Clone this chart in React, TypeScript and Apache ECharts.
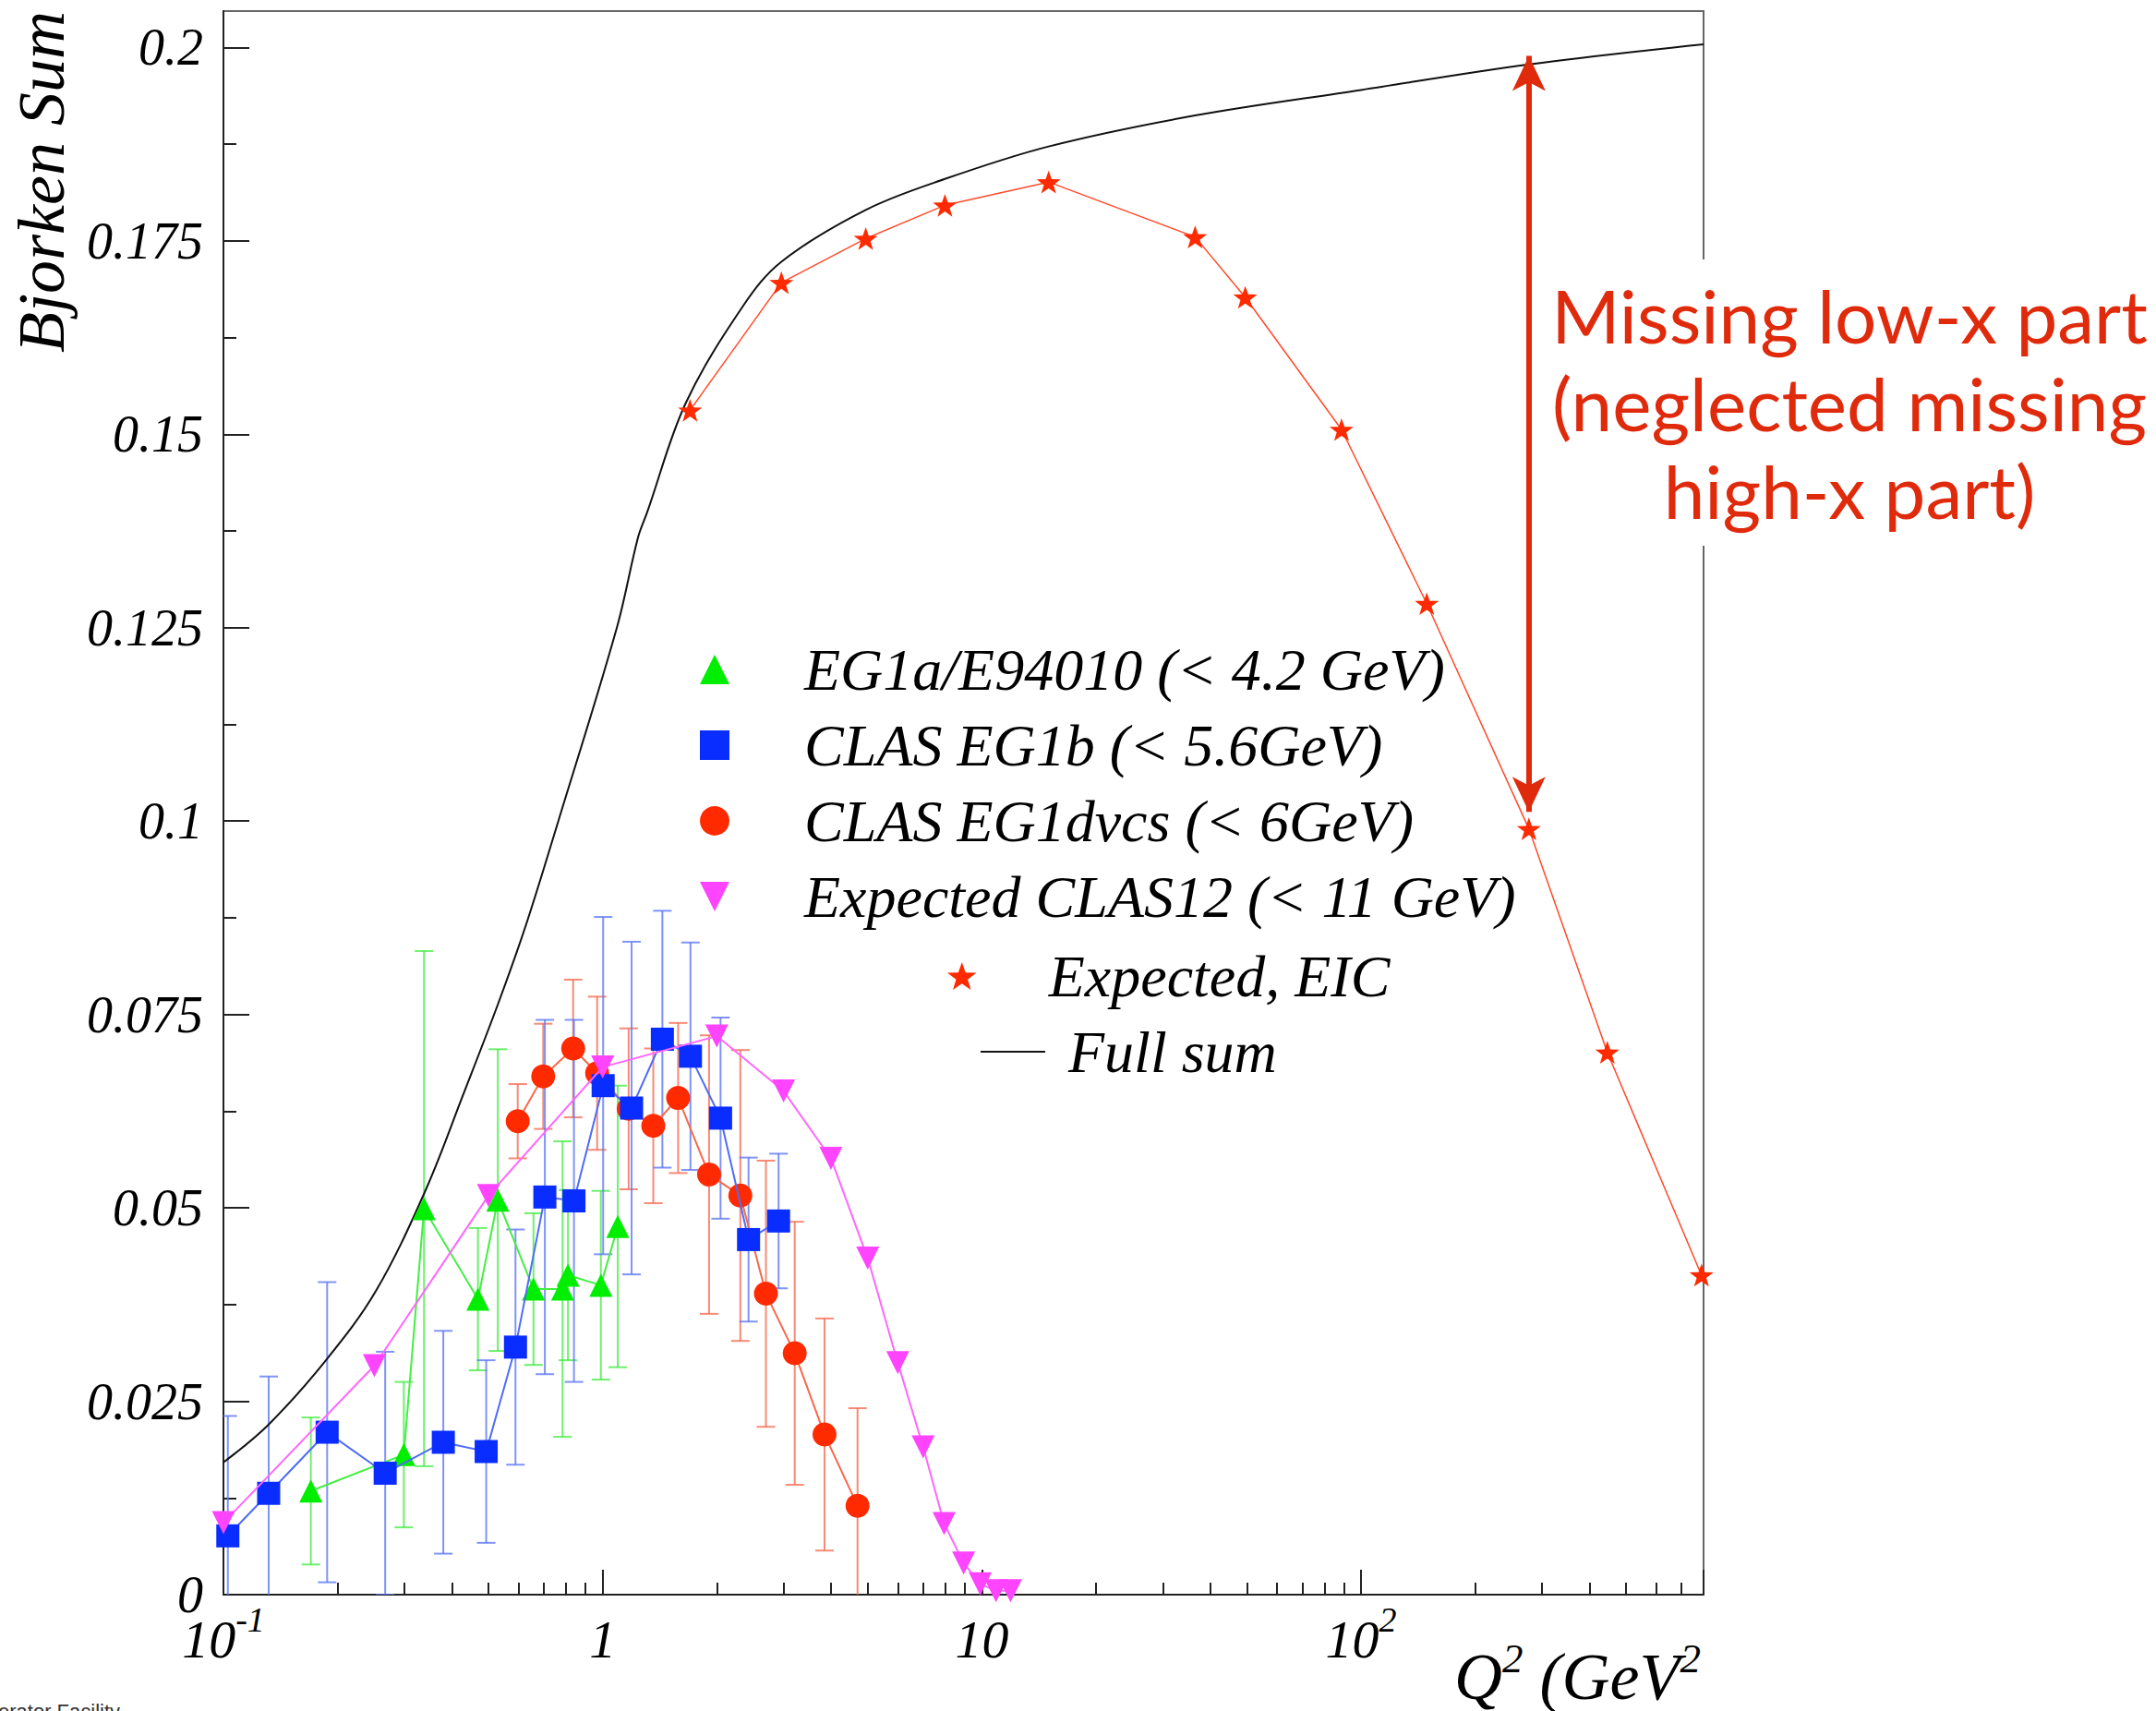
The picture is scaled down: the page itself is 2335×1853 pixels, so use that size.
import React, { useEffect, useRef } from 'react';
import * as echarts from 'echarts';

const W = 2335;
const H = 1853;

// ---------- axes ----------
const xMin = 0.1;
const xMax = 800;
const yMin = 0;
const yMax = 0.2047;
const yTicks = [0, 0.025, 0.05, 0.075, 0.1, 0.125, 0.15, 0.175, 0.2];
const yMinorTicks = [0.0125, 0.0375, 0.0625, 0.0875, 0.1125, 0.1375, 0.1625, 0.1875];
const xDecades = [0.1, 1, 10, 100];
const xDecadeLabels = ['{b|10}{s|-1}', '{b|1}', '{b|10}', '{b|10}{s|2}'];
const xMinorTicks = [
  0.2, 0.3, 0.4, 0.5, 0.6, 0.7, 0.8, 0.9,
  2, 3, 4, 5, 6, 7, 8, 9,
  20, 30, 40, 50, 60, 70, 80, 90,
  200, 300, 400, 500, 600, 700, 800,
];

// ---------- data ----------
const greenName = 'EG1a/E94010 (< 4.2 GeV)';
const greenQ = [0.170, 0.299, 0.338, 0.469, 0.529, 0.657, 0.784, 0.810, 0.989, 1.096];
const greenV = [0.0134, 0.0181, 0.0499, 0.0382, 0.0510, 0.0395, 0.0395, 0.0413, 0.0400, 0.0476];
const greenErr = [0.0095, 0.0094, 0.0333, 0.0092, 0.0195, 0.0098, 0.0191, 0.0110, 0.0122, 0.0182];

const blueName = 'CLAS EG1b (< 5.6GeV)';
const blueQ = [0.1027, 0.1316, 0.1877, 0.267, 0.380, 0.493, 0.589, 0.704, 0.840, 1.003, 1.192, 1.437, 1.704, 2.046, 2.425, 2.91];
const blueV = [0.0076, 0.0131, 0.0210, 0.0157, 0.0197, 0.0185, 0.0320, 0.0514, 0.0509, 0.0658, 0.0629, 0.0718, 0.0696, 0.0616, 0.0459, 0.0483];
const blueErr = [0.0155, 0.0151, 0.0194, 0.0157, 0.0144, 0.0118, 0.0152, 0.0229, 0.0234, 0.0218, 0.0215, 0.0166, 0.0147, 0.0130, 0.0106, 0.0087];

const redName = 'CLAS EG1dvcs (< 6GeV)';
const redQ = [0.597, 0.697, 0.836, 0.967, 1.171, 1.36, 1.581, 1.908, 2.307, 2.695, 3.21, 3.846, 4.70];
const redV = [0.0612, 0.0670, 0.0706, 0.0674, 0.0628, 0.0606, 0.0642, 0.0543, 0.0516, 0.0389, 0.0312, 0.0207, 0.0115];
const redErr = [0.0048, 0.0068, 0.0089, 0.0099, 0.0104, 0.0100, 0.0097, 0.0180, 0.0188, 0.0172, 0.0170, 0.0150, 0.0126];

const magentaName = 'Expected CLAS12 (< 11 GeV)';
const magentaQ = [0.1, 0.25, 0.5, 1.0, 2.0, 3.0, 4.0, 5.0, 6.0, 7.0, 7.95, 8.95, 9.9, 10.9, 11.9];
const magentaV = [0.0093, 0.0296, 0.0516, 0.0682, 0.0722, 0.0651, 0.0564, 0.0435, 0.0300, 0.0191, 0.0092, 0.0041, 0.0014, 0.0005, 0.0005];

const eicName = 'Expected, EIC';
const eicQ = [1.70, 2.96, 4.94, 7.99, 15.0, 36.5, 49.5, 88.8, 149, 277, 446, 790];
const eicV = [0.1531, 0.1696, 0.1753, 0.1796, 0.1826, 0.1755, 0.1677, 0.1506, 0.1281, 0.0990, 0.0701, 0.0413];

const fullName = 'Full sum';
const fullQ = [0.1, 0.1316, 0.187, 0.252, 0.34, 0.43, 0.532, 0.63, 0.764, 1.09, 1.24, 1.31, 1.655, 2.34, 2.96, 4.94, 7.99, 15, 36.5, 100, 277, 800];
const fullV = [0.0171, 0.0220, 0.0304, 0.0392, 0.0521, 0.0648, 0.0766, 0.0868, 0.1000, 0.1250, 0.1367, 0.1399, 0.1540, 0.1665, 0.1723, 0.1790, 0.1830, 0.1872, 0.1912, 0.1945, 0.1978, 0.2004];

// arrow annotation (Q2, low tip, high tip)
const arrowQ = 277;
const arrowLow = 0.1012;
const arrowHigh = 0.1989;

// ---------- symbols ----------
const triUp = 'path://M16,0 L32,32 L0,32 Z';
const triDown = 'path://M0,0 L32,0 L16,32 Z';
const square = 'path://M0,0 L32,0 L32,32 L0,32 Z';
const lineIcon = 'path://M0,0 L70,0 L70,2 L0,2 Z';
const starPath =
  'path://M16,0 L19.76,10.82 L31.22,11.06 L22.09,17.98 L25.4,28.94 L16,22.4 L6.6,28.94 L9.91,17.98 L0.78,11.06 L12.24,10.82 Z';

const serif = 'Liberation Serif';

function pairs(q: number[], v: number[]) {
  return q.map((x, i) => [x, v[i]]);
}
function errRows(q: number[], v: number[], e: number[]) {
  return q.map((x, i) => [x, v[i] - e[i], v[i] + e[i]]);
}

function errorSeries(rows: number[][], color: string) {
  return {
    type: 'custom',
    silent: true,
    clip: true,
    z: 2,
    data: rows,
    encode: { x: 0, y: [1, 2] },
    renderItem: (params: any, api: any) => {
      const x = api.value(0);
      const lo = api.value(1);
      const hi = api.value(2);
      const loC = Math.max(lo, yMin);
      const top = api.coord([x, hi]);
      const bot = api.coord([x, loC]);
      const cw = 10;
      const style = { stroke: color, lineWidth: 2 };
      const children: any[] = [
        { type: 'line', shape: { x1: top[0], y1: top[1], x2: bot[0], y2: bot[1] }, style },
        { type: 'line', shape: { x1: top[0] - cw, y1: top[1], x2: top[0] + cw, y2: top[1] }, style },
      ];
      if (lo >= yMin) {
        children.push({ type: 'line', shape: { x1: bot[0] - cw, y1: bot[1], x2: bot[0] + cw, y2: bot[1] }, style });
      }
      return { type: 'group', children };
    },
  };
}

const legendText = {
  fontSize: 64,
  fontStyle: 'italic',
  fontFamily: serif,
  color: '#000',
  lineHeight: 66,
};

export default function App() {
  const ref = useRef<HTMLDivElement>(null);

  useEffect(() => {
    if (!ref.current) return;
    const chart = echarts.init(ref.current, null, { renderer: 'svg', width: W, height: H });

    const option: any = {
      animation: false,
      backgroundColor: '#fff',
      grid: {
        left: 242,
        right: 490,
        top: 12,
        bottom: 126,
        show: true,
        borderColor: '#666',
        borderWidth: 2,
        backgroundColor: 'transparent',
        outerBoundsMode: 'none',
        containLabel: false,
      },
      xAxis: [
        {
          type: 'log',
          logBase: 10,
          min: xMin,
          max: xMax,
          position: 'bottom',
          axisLine: { show: true, onZero: false, lineStyle: { color: '#222', width: 2 } },
          axisTick: { show: true, inside: true, length: 27, lineStyle: { color: '#222', width: 2 } },
          minorTick: { show: false },
          splitLine: { show: false },
          axisLabel: {
            show: true,
            margin: 8,
            formatter: (val: number) => {
              const i = xDecades.findIndex((d) => Math.abs(Math.log10(val) - Math.log10(d)) < 1e-6);
              return i >= 0 ? xDecadeLabels[i] : '';
            },
            rich: {
              b: {
                fontSize: 58,
                fontStyle: 'italic',
                fontFamily: serif,
                color: '#000',
                lineHeight: 60,
                padding: [20, 0, 0, 0],
              },
              s: {
                fontSize: 38,
                fontStyle: 'italic',
                fontFamily: serif,
                color: '#000',
                lineHeight: 38,
                verticalAlign: 'top',
              },
            },
          },
        },
        {
          type: 'value',
          min: Math.log10(xMin),
          max: Math.log10(xMax),
          position: 'bottom',
          axisLine: { show: false, onZero: false },
          axisTick: {
            show: true,
            inside: true,
            length: 13,
            customValues: xMinorTicks.map((t) => Math.log10(t)),
            lineStyle: { color: '#222', width: 2 },
          },
          axisLabel: { show: false },
          splitLine: { show: false },
        },
      ],
      yAxis: [
        {
          type: 'value',
          min: yMin,
          max: yMax,
          position: 'left',
          axisLine: { show: true, onZero: false, lineStyle: { color: '#222', width: 2 } },
          axisTick: {
            show: true,
            inside: true,
            length: 28,
            customValues: yTicks,
            lineStyle: { color: '#222', width: 2 },
          },
          splitLine: { show: false },
          axisLabel: {
            show: true,
            customValues: yTicks,
            margin: 22,
            fontSize: 56,
            fontStyle: 'italic',
            fontFamily: serif,
            color: '#000',
            formatter: (v: number) => {
              const i = yTicks.findIndex((t) => Math.abs(t - v) < 1e-7);
              return i >= 0 ? String(parseFloat(yTicks[i].toFixed(4))) : '';
            },
          },
        },
        {
          type: 'value',
          min: yMin,
          max: yMax,
          position: 'left',
          axisLine: { show: false, onZero: false },
          axisTick: {
            show: true,
            inside: true,
            length: 14,
            customValues: yMinorTicks,
            lineStyle: { color: '#222', width: 2 },
          },
          axisLabel: { show: false },
          splitLine: { show: false },
        },
      ],
      legend: [
        {
          orient: 'vertical',
          left: 753,
          top: 687,
          itemWidth: 184,
          itemHeight: 32,
          itemGap: 16,
          selectedMode: false,
          symbolKeepAspect: true,
          textStyle: legendText,
          data: [
            { name: greenName, icon: triUp },
            { name: blueName, icon: square },
            { name: redName, icon: 'circle' },
            { name: magentaName, icon: triDown },
          ],
        },
        {
          orient: 'vertical',
          left: 1021,
          top: 1019,
          itemWidth: 178,
          itemHeight: 30,
          selectedMode: false,
          symbolKeepAspect: true,
          textStyle: legendText,
          data: [{ name: eicName, icon: starPath }],
        },
        {
          orient: 'vertical',
          left: 1057,
          top: 1101,
          itemWidth: 70,
          itemHeight: 32,
          selectedMode: false,
          symbolKeepAspect: true,
          textStyle: { ...legendText, padding: [0, 0, 0, 20] },
          data: [{ name: fullName, icon: lineIcon }],
        },
      ],
      series: [
        errorSeries(errRows(greenQ, greenV, greenErr), 'rgba(60,235,60,0.75)'),
        errorSeries(errRows(redQ, redV, redErr), 'rgba(245,110,85,0.8)'),
        errorSeries(errRows(blueQ, blueV, blueErr), 'rgba(95,120,245,0.8)'),
        {
          name: fullName,
          type: 'line',
          data: pairs(fullQ, fullV),
          symbol: 'none',
          showSymbol: false,
          smooth: 0.35,
          lineStyle: { color: '#111', width: 2 },
          itemStyle: { color: '#111' },
          z: 3,
        },
        {
          name: greenName,
          type: 'line',
          data: pairs(greenQ, greenV),
          symbol: triUp,
          symbolSize: 25,
          symbolKeepAspect: true,
          itemStyle: { color: '#00ee00' },
          lineStyle: { color: '#44ee44', width: 2 },
          z: 4,
        },
        {
          name: redName,
          type: 'line',
          data: pairs(redQ, redV),
          symbol: 'circle',
          symbolSize: 26,
          itemStyle: { color: '#ff2a00' },
          lineStyle: { color: '#f8684c', width: 2 },
          z: 5,
        },
        {
          name: blueName,
          type: 'line',
          data: pairs(blueQ, blueV),
          symbol: square,
          symbolSize: 25,
          symbolKeepAspect: true,
          itemStyle: { color: '#0a2dff' },
          lineStyle: { color: '#4f6cf5', width: 2 },
          z: 6,
        },
        {
          name: magentaName,
          type: 'line',
          data: pairs(magentaQ, magentaV),
          symbol: triDown,
          symbolSize: 25,
          symbolKeepAspect: true,
          itemStyle: { color: '#ff44ff' },
          lineStyle: { color: '#ff66ff', width: 2 },
          z: 7,
        },
        {
          name: eicName,
          type: 'line',
          data: pairs(eicQ, eicV),
          symbol: starPath,
          symbolSize: 26,
          symbolKeepAspect: true,
          itemStyle: { color: '#ff2a00' },
          lineStyle: { color: '#ff4a2a', width: 1.5 },
          z: 8,
          markLine: {
            silent: true,
            animation: false,
            symbol: ['arrow', 'arrow'],
            symbolSize: [27, 38],
            label: { show: false },
            lineStyle: { color: '#e02a0c', width: 6, type: 'solid' },
            emphasis: { disabled: true },
            data: [[{ coord: [arrowQ, arrowLow] }, { coord: [arrowQ, arrowHigh] }]],
          },
        },
      ],
      graphic: [
        {
          type: 'text',
          x: 45,
          y: 12,
          rotation: Math.PI / 2,
          style: {
            text: 'Bjorken Sum',
            fontSize: 72,
            fontStyle: 'italic',
            fontFamily: serif,
            fill: '#000',
            align: 'right',
            textAlign: 'right',
            verticalAlign: 'middle',
            textVerticalAlign: 'middle',
          },
        },
        {
          type: 'text',
          x: 1842,
          y: 1845,
          style: {
            text: '{t|Q}{s|2}{t| (GeV}{s|2}',
            fill: '#000',
            align: 'right',
            textAlign: 'right',
            verticalAlign: 'bottom',
            textVerticalAlign: 'bottom',
            rich: {
              t: {
                fontSize: 72,
                fontStyle: 'italic',
                fontFamily: serif,
                fill: '#000',
                lineHeight: 72,
                padding: [13, 0, 0, 0],
              },
              s: {
                fontSize: 45,
                fontStyle: 'italic',
                fontFamily: serif,
                fill: '#000',
                lineHeight: 45,
                verticalAlign: 'top',
              },
            },
          },
        },
        {
          type: 'rect',
          z: 100,
          shape: { x: 1668, y: 281, width: 667, height: 310 },
          style: { fill: '#fff' },
        },
        {
          type: 'text',
          z: 101,
          x: 2003,
          y: 436,
          style: {
            text: 'Missing low-x part\n(neglected missing\nhigh-x part)',
            fontSize: 80,
            fontFamily: 'Lato',
            fill: '#e02a0c',
            lineHeight: 95,
            align: 'center',
            textAlign: 'center',
            verticalAlign: 'middle',
            textVerticalAlign: 'middle',
          },
        },
        {
          type: 'text',
          x: -2,
          y: 1842,
          style: {
            text: 'erator Facility',
            fontSize: 22,
            fontFamily: 'Liberation Sans',
            fill: '#333',
            verticalAlign: 'top',
            textVerticalAlign: 'top',
          },
        },
      ],
    };

    chart.setOption(option);
    return () => {
      chart.dispose();
    };
  }, []);

  return (
    <div
      ref={ref}
      style={{ position: 'fixed', left: 0, top: 0, width: W, height: H, background: '#fff' }}
    />
  );
}
